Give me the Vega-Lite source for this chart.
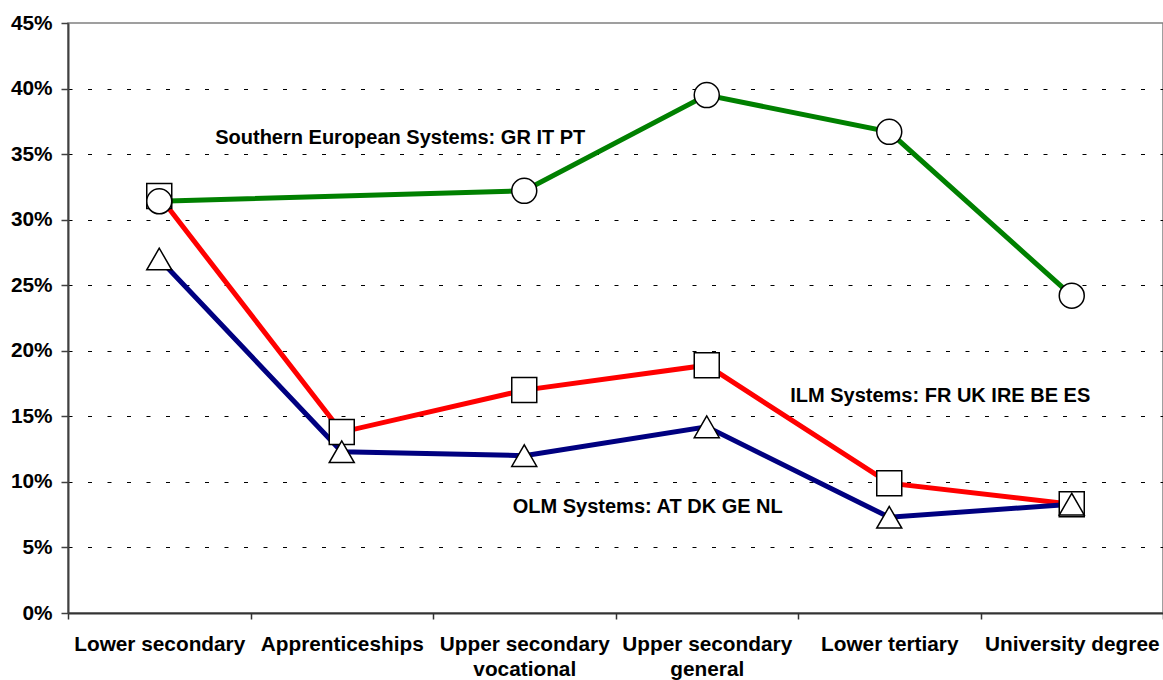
{
  "$schema": "https://vega.github.io/schema/vega-lite/v6.json",
  "width": 1095,
  "height": 590,
  "autosize": {"type": "none"},
  "padding": {"left": 68, "top": 23, "right": 0, "bottom": 67},
  "background": "white",
  "config": {
    "view": {"stroke": "#808080", "strokeWidth": 1.5},
    "font": "Liberation Sans"
  },
  "data": {
    "values": [
      {"level": "Lower secondary", "system": "ILM Systems", "value": 0.318},
      {"level": "Apprenticeships", "system": "ILM Systems", "value": 0.138},
      {"level": "Upper secondary vocational", "system": "ILM Systems", "value": 0.170},
      {"level": "Upper secondary general", "system": "ILM Systems", "value": 0.189},
      {"level": "Lower tertiary", "system": "ILM Systems", "value": 0.099},
      {"level": "University degree", "system": "ILM Systems", "value": 0.083},
      {"level": "Lower secondary", "system": "OLM Systems", "value": 0.270},
      {"level": "Apprenticeships", "system": "OLM Systems", "value": 0.123},
      {"level": "Upper secondary vocational", "system": "OLM Systems", "value": 0.120},
      {"level": "Upper secondary general", "system": "OLM Systems", "value": 0.142},
      {"level": "Lower tertiary", "system": "OLM Systems", "value": 0.073},
      {"level": "University degree", "system": "OLM Systems", "value": 0.083},
      {"level": "Lower secondary", "system": "Southern European Systems", "value": 0.314},
      {"level": "Upper secondary vocational", "system": "Southern European Systems", "value": 0.322},
      {"level": "Upper secondary general", "system": "Southern European Systems", "value": 0.395},
      {"level": "Lower tertiary", "system": "Southern European Systems", "value": 0.367},
      {"level": "University degree", "system": "Southern European Systems", "value": 0.242}
    ]
  },
  "encoding": {
    "x": {
      "field": "level",
      "type": "nominal",
      "bandPosition": 0.5,
      "sort": ["Lower secondary", "Apprenticeships", "Upper secondary vocational", "Upper secondary general", "Lower tertiary", "University degree"],
      "scale": {"type": "band", "paddingInner": 0, "paddingOuter": 0},
      "axis": {
        "title": null,
        "tickBand": "extent",
        "grid": false,
        "domainColor": "#333333",
        "domainWidth": 2,
        "tickColor": "#333333",
        "tickWidth": 1.5,
        "tickSize": 6,
        "labelAngle": 0,
        "labelFontSize": 20.8,
        "labelFontWeight": "bold",
        "labelColor": "black",
        "labelPadding": 15,
        "labelLineHeight": 25,
        "labelLimit": 0,
        "labelExpr": "split(replace(datum.label, 'secondary ', 'secondary|'), '|')"
      }
    },
    "y": {
      "field": "value",
      "type": "quantitative",
      "scale": {"domain": [0, 0.45], "nice": false, "zero": true},
      "axis": {
        "title": null,
        "values": [0, 0.05, 0.1, 0.15, 0.2, 0.25, 0.3, 0.35, 0.4, 0.45],
        "format": ".0%",
        "grid": true,
        "gridColor": "#000000",
        "gridWidth": 1,
        "gridDash": [4, 15.5],
        "gridOpacity": {"condition": {"test": "datum.value >= 0.449 || datum.value <= 0.001", "value": 0}, "value": 1},
        "domainColor": "#404040",
        "domainWidth": 2,
        "tickColor": "#404040",
        "tickWidth": 1.5,
        "tickSize": 7,
        "labelFontSize": 20.8,
        "labelFontWeight": "bold",
        "labelColor": "black",
        "labelPadding": 9
      }
    }
  },
  "layer": [
    {
      "mark": {"type": "line", "strokeWidth": 5},
      "encoding": {
        "color": {
          "field": "system",
          "type": "nominal",
          "scale": {"domain": ["ILM Systems", "OLM Systems", "Southern European Systems"], "range": ["#FF0000", "#000080", "#008000"]},
          "legend": null
        },
        "order": {"value": null}
      }
    },
    {
      "mark": {"type": "point", "filled": true, "fill": "white", "stroke": "black", "strokeWidth": 1.5, "size": 625, "opacity": 1},
      "encoding": {
        "shape": {
          "field": "system",
          "type": "nominal",
          "scale": {"domain": ["ILM Systems", "OLM Systems", "Southern European Systems"], "range": ["square", "triangle-up", "circle"]},
          "legend": null
        }
      }
    },
    {
      "data": {"values": [{"level": "Apprenticeships", "value": 0.358, "note": "Southern European Systems: GR IT PT"}]},
      "mark": {"type": "text", "dx": 58.5, "align": "center", "baseline": "alphabetic", "fontSize": 20, "fontWeight": "bold", "color": "black"},
      "encoding": {"text": {"field": "note"}}
    },
    {
      "data": {"values": [{"level": "Lower tertiary", "value": 0.161, "note": "ILM Systems: FR UK IRE BE ES"}]},
      "mark": {"type": "text", "dx": 51, "align": "center", "baseline": "alphabetic", "fontSize": 20, "fontWeight": "bold", "color": "black"},
      "encoding": {"text": {"field": "note"}}
    },
    {
      "data": {"values": [{"level": "Upper secondary general", "value": 0.076, "note": "OLM Systems: AT DK GE NL"}]},
      "mark": {"type": "text", "dx": -59, "align": "center", "baseline": "alphabetic", "fontSize": 20, "fontWeight": "bold", "color": "black"},
      "encoding": {"text": {"field": "note"}}
    }
  ]
}
